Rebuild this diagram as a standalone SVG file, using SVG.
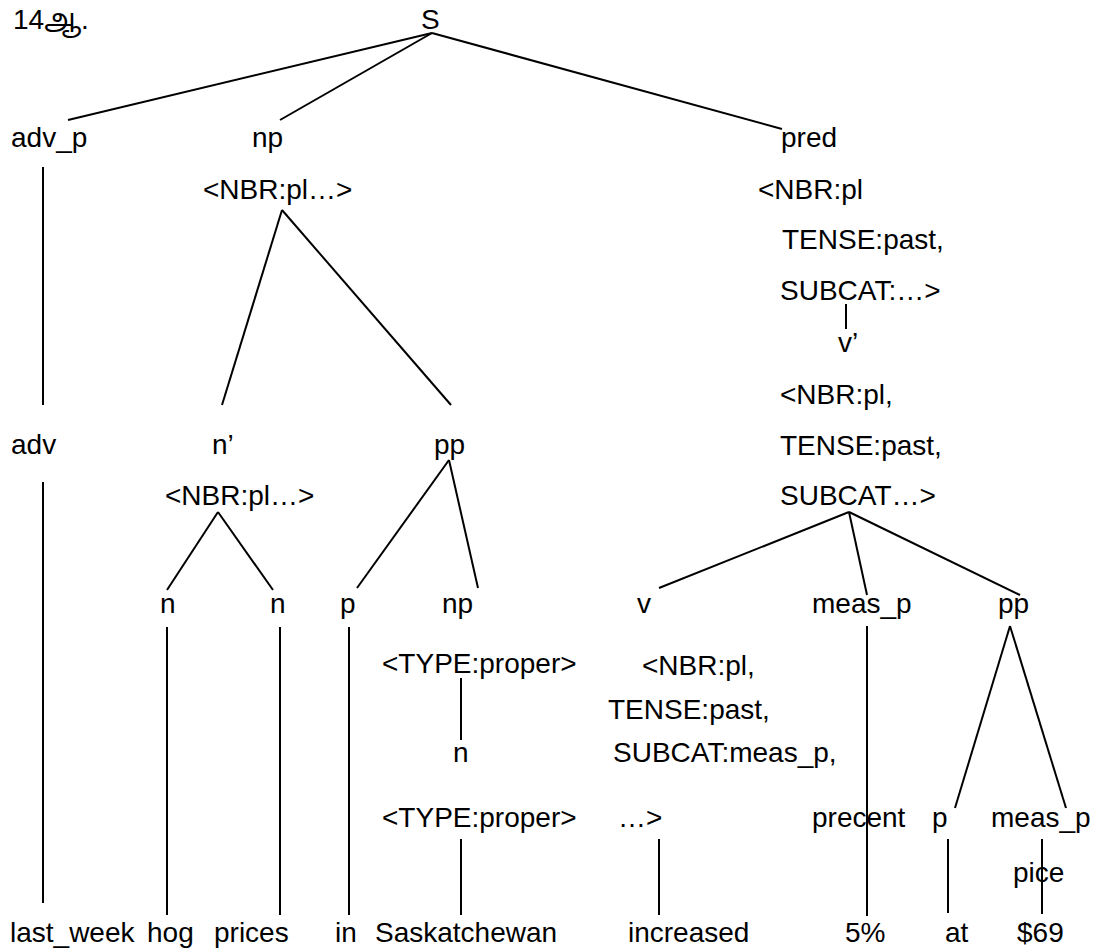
<svg xmlns="http://www.w3.org/2000/svg" width="1098" height="952" viewBox="0 0 1098 952">
  <style>
    text { font-family: "Liberation Sans", Arial, "Noto Sans Tamil", "Noto Sans", sans-serif; font-size: 28px; fill: #000; }
    .edge { stroke: #000; stroke-width: 2; fill: none; }
  </style>
  <rect width="1098" height="952" fill="#fff"/>

  <!-- tree edges -->
  <g id="connectors">
    <line class="edge" x1="432" y1="33" x2="68" y2="120"/>
    <line class="edge" x1="432" y1="33" x2="280" y2="120"/>
    <line class="edge" x1="432" y1="33" x2="782" y2="129"/>
    <line class="edge" x1="43" y1="167" x2="43" y2="405"/>
    <line class="edge" x1="282" y1="210" x2="222" y2="405"/>
    <line class="edge" x1="282" y1="210" x2="451" y2="405"/>
    <line class="edge" x1="846" y1="304" x2="846" y2="329"/>
    <line class="edge" x1="43" y1="482" x2="43" y2="903"/>
    <line class="edge" x1="218" y1="512" x2="167" y2="590"/>
    <line class="edge" x1="218" y1="512" x2="273" y2="590"/>
    <line class="edge" x1="449" y1="460" x2="357" y2="588"/>
    <line class="edge" x1="449" y1="460" x2="478" y2="588"/>
    <line class="edge" x1="849" y1="512" x2="659" y2="588"/>
    <line class="edge" x1="849" y1="512" x2="867" y2="595"/>
    <line class="edge" x1="849" y1="512" x2="1020" y2="595"/>
    <line class="edge" x1="167" y1="627" x2="167" y2="915"/>
    <line class="edge" x1="280" y1="627" x2="280" y2="915"/>
    <line class="edge" x1="349" y1="627" x2="349" y2="915"/>
    <line class="edge" x1="461" y1="678" x2="461" y2="740"/>
    <line class="edge" x1="461" y1="839" x2="461" y2="915"/>
    <line class="edge" x1="659" y1="839" x2="659" y2="915"/>
    <line class="edge" x1="867" y1="626" x2="867" y2="916"/>
    <line class="edge" x1="1010" y1="626" x2="955" y2="808"/>
    <line class="edge" x1="1010" y1="626" x2="1066" y2="808"/>
    <line class="edge" x1="948" y1="839" x2="948" y2="913"/>
    <line class="edge" x1="1042" y1="839" x2="1042" y2="914"/>
  </g>

  <text x="13" y="29">14ஆ.</text>

  <g id="S"><text x="421" y="29">S</text></g>

  <g id="adv_p"><text x="11" y="147">adv_p</text></g>
  <g id="np"><text x="252" y="147">np</text><text x="203" y="199">&lt;NBR:pl…&gt;</text></g>
  <g id="pred">
    <text x="781" y="147">pred</text>
    <text x="758" y="199">&lt;NBR:pl</text>
    <text x="782" y="249">TENSE:past,</text>
    <text x="780" y="300">SUBCAT:…&gt;</text>
  </g>
  <g id="v_bar">
    <text x="838" y="352">v’</text>
    <text x="780" y="404">&lt;NBR:pl,</text>
    <text x="780" y="455">TENSE:past,</text>
    <text x="780" y="505">SUBCAT…&gt;</text>
  </g>

  <g id="adv"><text x="11" y="454">adv</text></g>
  <g id="n_bar"><text x="212" y="454">n’</text><text x="165" y="505">&lt;NBR:pl…&gt;</text></g>
  <g id="pp1"><text x="434" y="454">pp</text></g>

  <g id="n1"><text x="160" y="613">n</text></g>
  <g id="n2"><text x="270" y="613">n</text></g>
  <g id="p1"><text x="340" y="613">p</text></g>
  <g id="np2"><text x="442" y="613">np</text><text x="382" y="673">&lt;TYPE:proper&gt;</text></g>
  <g id="v">
    <text x="637" y="613">v</text>
    <text x="642" y="675">&lt;NBR:pl,</text>
    <text x="608" y="719">TENSE:past,</text>
    <text x="613" y="762">SUBCAT:meas_p,</text>
    <text x="618" y="827">…&gt;</text>
  </g>
  <g id="meas_p1"><text x="812" y="613">meas_p</text></g>
  <g id="pp2"><text x="998" y="613">pp</text></g>

  <g id="n3"><text x="453" y="762">n</text><text x="382" y="827">&lt;TYPE:proper&gt;</text></g>
  <g id="precent"><text x="812" y="827">precent</text></g>
  <g id="p2"><text x="932" y="827">p</text></g>
  <g id="meas_p2"><text x="991" y="827">meas_p</text></g>
  <g id="pice"><text x="1013" y="882">pice</text></g>

  <g id="words">
    <text x="10" y="942">last_week</text>
    <text x="147" y="942">hog</text>
    <text x="214" y="942">prices</text>
    <text x="335" y="942">in</text>
    <text x="375" y="942">Saskatchewan</text>
    <text x="628" y="942">increased</text>
    <text x="845" y="942">5%</text>
    <text x="945" y="942">at</text>
    <text x="1017" y="942">$69</text>
  </g>
</svg>
